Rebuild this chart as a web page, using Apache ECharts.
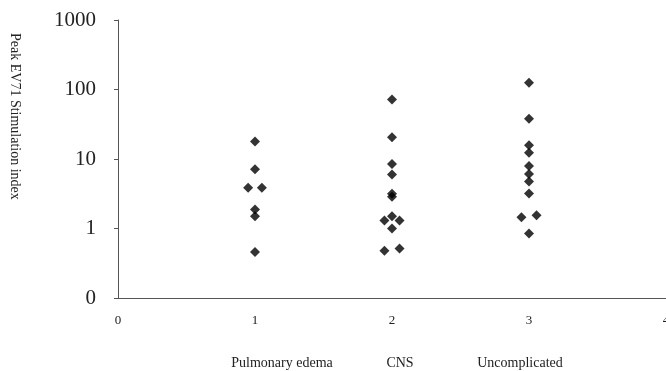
<!DOCTYPE html>
<html>
<head>
<meta charset="utf-8">
<script src="https://cdn.jsdelivr.net/npm/echarts@6/dist/echarts.min.js"></script>
<style>
  html, body { margin: 0; padding: 0; background: #fff; }
  #chart { width: 666px; height: 371px; }
</style>
</head>
<body>
<div id="chart"></div>
<script>
// group positions on the x axis (with small jitter for overlapping points)
const pulmonaryX = [1, 1, 0.95, 1.05, 1, 1, 1];
const pulmonaryY = [17.9, 7.1, 3.85, 3.85, 1.88, 1.5, 0.46];

const cnsX = [2, 2, 2, 2, 2, 2, 1.945, 2, 2.055, 2, 1.945, 2.055];
const cnsY = [72, 20.6, 8.5, 6.0, 3.16, 2.86, 1.3, 1.5, 1.3, 1.0, 0.48, 0.515];

const uncomplicatedX = [3, 3, 3, 3, 3, 3, 3, 3, 2.945, 3.055, 3];
const uncomplicatedY = [125, 38, 15.8, 12.3, 7.9, 6.1, 4.75, 3.2, 1.45, 1.55, 0.85];

const groupLabels = ["Pulmonary edema", "CNS", "Uncomplicated"];
const yTickLabels = { 0.1: "0", 1: "1", 10: "10", 100: "100", 1000: "1000" };

const pairs = (xs, ys) => xs.map((x, i) => [x, ys[i]]);
const allPoints = pairs(pulmonaryX, pulmonaryY)
  .concat(pairs(cnsX, cnsY))
  .concat(pairs(uncomplicatedX, uncomplicatedY));

const serif = "Liberation Serif";
const chart = echarts.init(document.getElementById("chart"));

chart.setOption({
  animation: false,
  grid: { left: 118, right: 0, top: 20, bottom: 73, containLabel: false, outerBoundsMode: "none" },
  xAxis: {
    type: "value",
    min: 0,
    max: 4,
    interval: 1,
    axisLine: { lineStyle: { color: "#555", width: 1 } },
    axisTick: { show: false },
    splitLine: { show: false },
    axisLabel: { fontFamily: serif, fontSize: 13, color: "#222", margin: 16 }
  },
  yAxis: {
    type: "log",
    logBase: 10,
    min: 0.1,
    max: 1000,
    axisLine: { show: true, lineStyle: { color: "#555", width: 1 } },
    axisTick: { show: true, inside: false, length: 4, lineStyle: { color: "#555" } },
    splitLine: { show: false },
    axisLabel: {
      fontFamily: serif,
      fontSize: 21,
      color: "#222",
      margin: 22,
      formatter: v => yTickLabels[Math.round(v * 10) / 10] ?? String(v)
    }
  },
  graphic: [
    {
      type: "text",
      left: 8,
      top: 33,
      rotation: -Math.PI / 2,
      style: {
        text: "Peak EV71 Stimulation index",
        fontFamily: serif,
        fontSize: 14,
        fill: "#222"
      }
    },
    ...groupLabels.map((t, i) => ({
      type: "text",
      x: [282, 400, 520][i],
      y: 363,
      style: {
        text: t,
        fontFamily: serif,
        fontSize: 14,
        fill: "#222",
        align: "center",
        verticalAlign: "middle"
      }
    }))
  ],
  series: [
    {
      type: "scatter",
      symbol: "diamond",
      symbolSize: 10,
      itemStyle: { color: "#000" },
      data: allPoints
    }
  ]
});
</script>
</body>
</html>
